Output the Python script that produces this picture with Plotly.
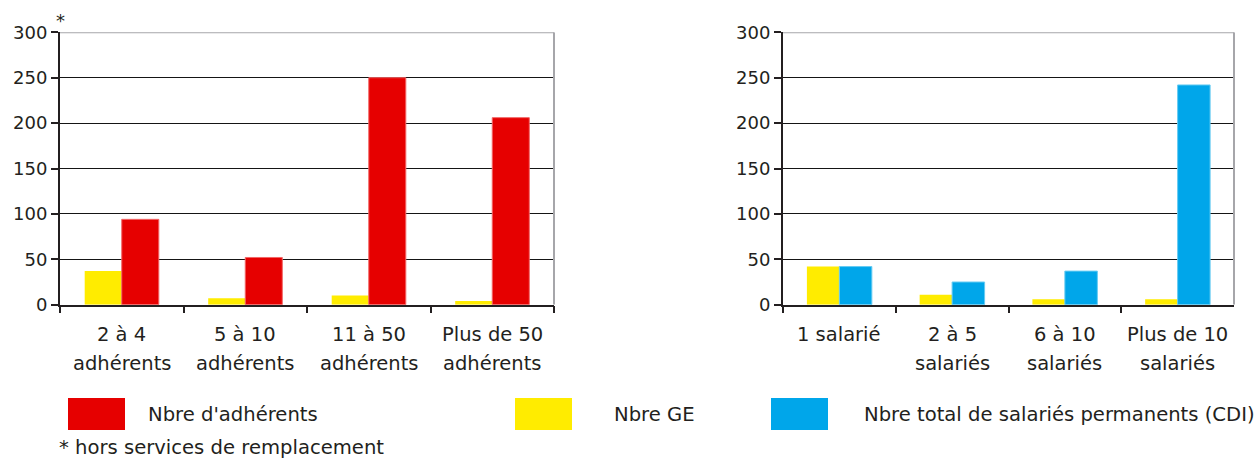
import plotly.graph_objects as go

# ---- data ----
cat_adherents = ["2 à 4\nadhérents", "5 à 10\nadhérents", "11 à 50\nadhérents", "Plus de 50\nadhérents"]
cat_salaries = ["1 salarié", "2 à 5\nsalariés", "6 à 10\nsalariés", "Plus de 10\nsalariés"]

ge_by_adherents = [37, 7, 10, 4]
adherents_count = [94, 52, 250, 206]

ge_by_salaries = [42, 11, 6, 6]
cdi_count = [42, 25, 37, 242]

y_ticks = [0, 50, 100, 150, 200, 250, 300]

name_adh = "Nbre d'adhérents"
name_ge = "Nbre GE"
name_cdi = "Nbre total de salariés permanents (CDI)"
footnote = "* hors services de remplacement"

# ---- style ----
W, H = 1258, 459
RED = "#E60000"
YELLOW = "#FFEC00"
BLUE = "#00A6EA"
INK = "#231F20"
GRID = "#151515"
BORDER = "#A6A6AA"
FONT = "DejaVu Sans"


def px_x(v):
    return v / W


def px_y(v):
    return (H - v) / H


y_dom = [px_y(304.7), px_y(32.3)]
left_dom = [px_x(60), px_x(554)]
right_dom = [px_x(783), px_x(1234)]

fig = go.Figure()

w_left = 0.30
w_right = 0.288

fig.add_trace(go.Bar(x=cat_adherents, y=ge_by_adherents, name=name_ge,
                     marker=dict(color=YELLOW, line=dict(width=0)),
                     width=w_left, offset=-w_left, xaxis="x", yaxis="y"))
fig.add_trace(go.Bar(x=cat_adherents, y=adherents_count, name=name_adh,
                     marker=dict(color=RED, line=dict(color="#F26666", width=1)),
                     width=w_left, offset=0, xaxis="x", yaxis="y"))
fig.add_trace(go.Bar(x=cat_salaries, y=ge_by_salaries, name=name_ge,
                     marker=dict(color=YELLOW, line=dict(width=0)),
                     width=w_right, offset=-w_right, xaxis="x2", yaxis="y2"))
fig.add_trace(go.Bar(x=cat_salaries, y=cdi_count, name=name_cdi,
                     marker=dict(color=BLUE, line=dict(color="#66CBF2", width=1)),
                     width=w_right, offset=0, xaxis="x2", yaxis="y2"))

xaxis_common = dict(type="category", range=[-0.5, 3.5], showticklabels=False,
                    tickson="boundaries", ticks="outside", ticklen=7, tickwidth=1.5,
                    tickcolor=INK, showline=True, linecolor=INK, linewidth=1.5,
                    showgrid=False, zeroline=False, fixedrange=True, automargin=False)
yaxis_common = dict(range=[0, 300], tickvals=y_ticks, ticks="outside", ticklen=7,
                    tickwidth=1.5, tickcolor=INK, showline=True, linecolor=INK,
                    linewidth=2, showgrid=True, gridcolor=GRID, gridwidth=1.4,
                    zeroline=False, domain=y_dom, automargin=False,
                    tickfont=dict(family=FONT, size=18, color=INK))

fig.update_layout(
    width=W, height=H,
    margin=dict(l=0, r=0, t=0, b=0, pad=0, autoexpand=False),
    paper_bgcolor="white", plot_bgcolor="white",
    showlegend=False,
    barmode="overlay",
    xaxis=dict(domain=left_dom, anchor="y", **xaxis_common),
    yaxis=dict(anchor="x", **yaxis_common),
    xaxis2=dict(domain=right_dom, anchor="y2", **xaxis_common),
    yaxis2=dict(anchor="x2", **yaxis_common),
)

shapes = []
annotations = []

# grey frame on the top and right of each plot area
for xr, yr in (("x", "y"), ("x2", "y2")):
    shapes.append(dict(type="line", xref=f"{xr} domain", yref=yr, x0=0, x1=1,
                       y0=300, y1=300, line=dict(color=BORDER, width=2)))
    shapes.append(dict(type="line", xref=f"{xr} domain", yref=yr, x0=1, x1=1,
                       y0=0, y1=300, line=dict(color=BORDER, width=2)))

# two-line category labels under each axis
line1_y = px_y(334)
line2_y = px_y(363)
for xr, cats in (("x", cat_adherents), ("x2", cat_salaries)):
    for c in cats:
        parts = c.split("\n")
        for i, part in enumerate(parts):
            annotations.append(dict(x=c, xref=xr, y=line1_y if i == 0 else line2_y,
                                    yref="paper", text=part, showarrow=False,
                                    xanchor="center", yanchor="middle",
                                    font=dict(family=FONT, size=19.5, color=INK)))

# asterisk above the left y axis
annotations.append(dict(x=px_x(60), y=px_y(20), xref="paper", yref="paper",
                        text="*", showarrow=False, xanchor="center", yanchor="middle",
                        font=dict(family=FONT, size=18, color=INK)))

# legend swatches and labels
legend_items = [
    (name_adh, RED, 68, 146),
    (name_ge, YELLOW, 515, 612),
    (name_cdi, BLUE, 771, 862),
]
for label, color, box_x, text_x in legend_items:
    shapes.append(dict(type="rect", xref="paper", yref="paper",
                       x0=px_x(box_x), x1=px_x(box_x + 57),
                       y0=px_y(430), y1=px_y(398),
                       fillcolor=color, line=dict(width=0)))
    annotations.append(dict(x=px_x(text_x), y=px_y(414), xref="paper", yref="paper",
                            text=label, showarrow=False, xanchor="left",
                            yanchor="middle",
                            font=dict(family=FONT, size=19.6, color=INK)))

annotations.append(dict(x=px_x(57), y=px_y(447), xref="paper", yref="paper",
                        text=footnote, showarrow=False, xanchor="left",
                        yanchor="middle",
                        font=dict(family=FONT, size=19.6, color=INK)))

fig.update_layout(shapes=shapes, annotations=annotations)

fig.write_html("out.html")
